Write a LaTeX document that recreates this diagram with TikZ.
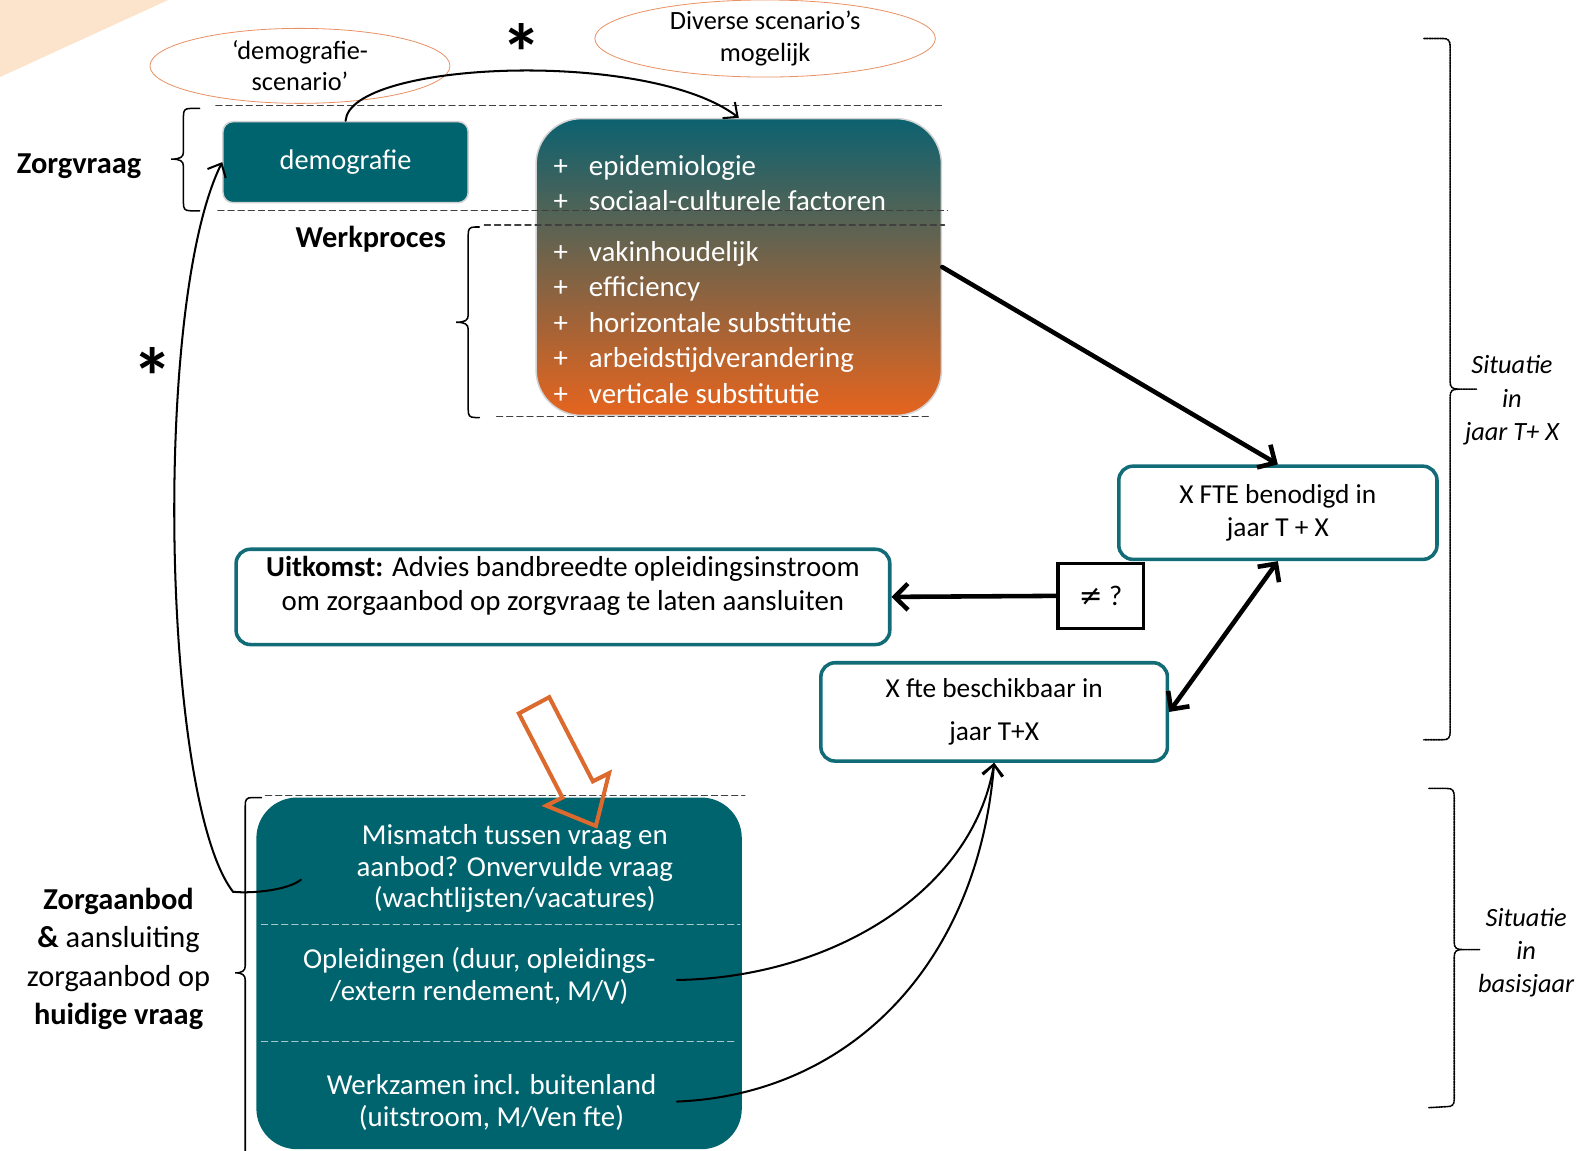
\documentclass[tikz,border=0pt]{standalone}
\usepackage{fontspec}
\setmainfont{Carlito}
\newfontfamily\symbfont{DejaVu Sans}
\usetikzlibrary{arrows.meta,shapes.geometric}
\definecolor{zorgteal}{RGB}{0,100,110}
\definecolor{boxrand}{RGB}{18,108,120}
\definecolor{perzik}{RGB}{252,228,204}
\definecolor{scenrand}{RGB}{232,145,100}
\definecolor{pijloranje}{RGB}{220,105,45}
\definecolor{gradboven}{RGB}{12,98,112}
\definecolor{gradmidden}{RGB}{150,98,90}
\definecolor{gradonder}{RGB}{230,100,30}
\newcommand{\plusteken}{\makebox[35pt][l]{+}}

\begin{document}
\begin{tikzpicture}[x=1pt,y=-1pt,line cap=round,
  >={Straight Barb[length=11pt,width=20pt]},
  boxtext/.style={font=\fontsize{28.5}{33}\selectfont,align=center},
  fillbox/.style={draw=gray!35,line width=1.5pt,fill=zorgteal,text=white,rounded corners=10pt},
  outbox/.style={draw=boxrand,line width=3.5pt,fill=white,rounded corners=14pt},
  scen/.style={ellipse,draw=scenrand,line width=0.8pt,inner sep=0pt,font=\fontsize{26}{31}\selectfont,align=center},
  scheiding/.style={dash pattern=on 6pt off 4pt,line width=1.3pt,black!75},
  stippel/.style={densely dotted,line width=1.6pt},
  dik/.style={line width=4.5pt,-{Straight Barb[length=13pt,width=26pt]}},
  dun/.style={line width=2pt,->},
  kop/.style={font=\bfseries\fontsize{30}{38}\selectfont},
  situ/.style={font=\itshape\fontsize{26}{33}\selectfont,align=center},
  wit/.style={text=white,font=\fontsize{28.5}{31.5}\selectfont,align=center},
  lijst/.style={anchor=west,text=white,font=\fontsize{28.5}{35}\selectfont,align=left,inner sep=0pt},
  ster/.style={font=\bfseries\fontsize{80}{80}\selectfont}]
\useasboundingbox (0,0) rectangle (1568,1135);
\fill[perzik] (0,0) -- (166,0) -- (0,76) -- cycle;

% scenario ellipsen
\node[scen,minimum width=296pt,minimum height=74pt] (scendemo) at (296,65) {‘demografie-\\scenario’};
\node[scen,minimum width=336pt,minimum height=70pt] (scendiv) at (755,38) {Diverse scenario’s\\mogelijk};
\node[ster] (ster1) at (515,52) {*};
\node[ster] (ster2) at (151,372) {*};

% zorgvraag en werkproces
\node[fillbox,font=\fontsize{28}{33}\selectfont,minimum width=242pt,minimum height=80pt] (demo) at (341,160) {demografie};
\node[draw=gray!35,line width=1.5pt,rounded corners=45pt,top color=gradboven,middle color=gradmidden,bottom color=gradonder,minimum width=400pt,minimum height=293pt] (grad) at (729,263.5) {};
\node[lijst] (epi) at (546,180.5) {\plusteken epidemiologie\\\plusteken sociaal-culturele factoren};
\node[lijst] (werkitems) at (546,318) {\plusteken vakinhoudelijk\\\plusteken efficiency\\\plusteken horizontale substitutie\\\plusteken arbeidstijdverandering\\\plusteken verticale substitutie};
\draw[scheiding] (213,104) -- (930,104);
\draw[scheiding] (215,208) -- (935,208);
\draw[scheiding] (478,222) -- (932,222);
\draw[scheiding] (490,411) -- (918,411);
\node[kop] (zvraag) at (78,164) {Zorgvraag};
\node[kop] (werkp) at (366,236) {Werkproces};
\draw[line width=1.5pt] (197,107) -- (188,107) .. controls (182,107) and (181,109) .. (181,115) -- (181,150) .. controls (181,155) and (178,157) .. (169,157) .. controls (178,157) and (181,159) .. (181,164) -- (181,200) .. controls (181,206) and (182,208) .. (188,208) -- (197,208);
\draw[line width=1.5pt] (473,224) -- (469,224) .. controls (463,224) and (462,226) .. (462,232) -- (462,311) .. controls (462,316) and (459,318) .. (450,318) .. controls (459,318) and (462,320) .. (462,325) -- (462,404) .. controls (462,410) and (463,412) .. (469,412) -- (473,412);

% uitkomst
\node[outbox,font=\fontsize{27}{32}\selectfont,align=center,minimum width=314pt,minimum height=92pt] (nodig) at (1261,506) {X FTE benodigd in\\jaar T + X};
\node[outbox,minimum width=645pt,minimum height=94pt] (uitkomst) at (555.5,589) {};
\node[boxtext] (uittekst) at ([yshift=11pt]uitkomst.center) {\textbf{Uitkomst:} Advies bandbreedte opleidingsinstroom\\om zorgaanbod op zorgvraag te laten aansluiten};
\node[draw,line width=3pt,minimum width=84pt,minimum height=64pt,font=\fontsize{28}{28}\selectfont] (ongelijk) at (1086,588) {{\symbfont ≠} ?};
\node[outbox,minimum width=342pt,minimum height=97pt,font=\fontsize{27}{43}\selectfont,align=center] (beschikb) at (981,702.5) {X fte beschikbaar in\\jaar T+X};

% zorgaanbod
\node[fill=zorgteal,rounded corners=40pt,minimum width=479pt,minimum height=347pt] (aanbod) at (492.5,960.5) {};
\draw[scheiding] (262,785) -- (735,785);
\draw[dash pattern=on 6pt off 4pt,line width=1.3pt,white!65!zorgteal] (258,912) -- (730,912);
\draw[dash pattern=on 6pt off 4pt,line width=1.3pt,white!65!zorgteal] (258,1028) -- (726,1028);
\node[wit] (mismatch) at (508,857) {Mismatch tussen vraag en\\aanbod? Onvervulde vraag\\(wachtlijsten/vacatures)};
\node[wit] (opleid) at (473,963) {Opleidingen (duur, opleidings-\\/extern rendement, M/V)};
\node[wit] (werkz) at (485,1088) {Werkzamen incl. buitenland\\(uitstroom, M/Ven fte)};
\node[font=\fontsize{30}{38}\selectfont,align=center] (zaanbod) at (117,946) {\textbf{Zorgaanbod}\\\textbf{\&} aansluiting\\zorgaanbod op\\\textbf{huidige vraag}};
\draw[line width=1.5pt] (258,787) -- (249,787) .. controls (243,787) and (242,789) .. (242,795) -- (242,953) .. controls (242,958) and (239,960) .. (232,960) .. controls (239,960) and (242,962) .. (242,967) -- (242,1140);
\draw[pijloranje,line width=4pt,line join=miter] (512,704) -- (542,688) -- (585,771) -- (601,763) -- (588,815) -- (539,795) -- (555,787) -- cycle;

% situatie accolades
\draw[stippel] (1405,38) -- (1424,38) .. controls (1429,38) and (1431,40) .. (1431,46) -- (1431,377) .. controls (1431,382) and (1433,384) .. (1439,384) -- (1457,384)
  (1439,384) .. controls (1433,384) and (1431,386) .. (1431,391) -- (1431,722) .. controls (1431,728) and (1429,730) .. (1424,730) -- (1405,730);
\draw[stippel] (1410,778) -- (1428,778) .. controls (1433,778) and (1435,780) .. (1435,786) -- (1435,930) .. controls (1435,935) and (1437,937) .. (1443,937) -- (1460,937)
  (1443,937) .. controls (1437,937) and (1435,939) .. (1435,944) -- (1435,1085) .. controls (1435,1090) and (1433,1092) .. (1428,1092) -- (1410,1093);
\node[situ] (situT) at (1492,395) {Situatie\\in\\jaar T+ X};
\node[situ] (situB) at (1506,940) {Situatie\\in\\basisjaar};

% verbindingen
\coordinate (haak) at (297,868);
\coordinate (oplpunt) at (668,967);
\coordinate (werkpunt) at (668,1087);
\draw[dun] (demo.north) .. controls (345,60) and (640,48) .. (grad.north);
\draw[dun] (haak) .. controls (285,878) and (250,882) .. (230,880) .. controls (160,790) and (150,300) .. (demo.west);
\draw[dik] (grad.east) -- (nodig.north);
\draw[dik] (ongelijk.west) -- (uitkomst.east);
\draw[dik,{Straight Barb[length=13pt,width=26pt]}-{Straight Barb[length=13pt,width=26pt]}] (nodig.south) -- (beschikb.east);
\draw[dun] (oplpunt) .. controls (820,965) and (960,880) .. (beschikb.south);
\draw[dun] (werkpunt) .. controls (840,1080) and (965,950) .. (beschikb.south);
\end{tikzpicture}
\end{document}
